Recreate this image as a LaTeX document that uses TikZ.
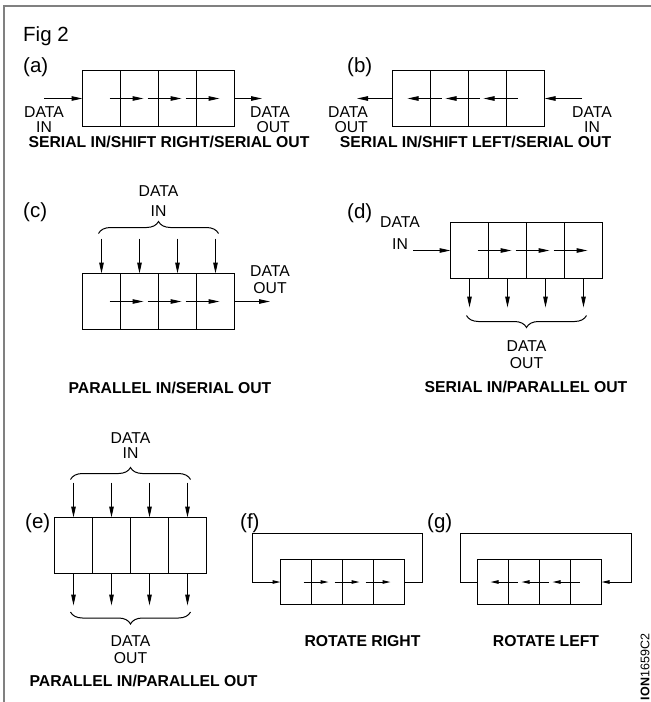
\documentclass[tikz,border=0pt]{standalone}
\usepackage{fontspec}
\setmainfont{Liberation Sans}
\usetikzlibrary{arrows.meta, positioning, decorations.pathreplacing}
\definecolor{FrameGray}{HTML}{808080}
\tikzset{
  cell/.style={draw, line width=1.2pt, minimum width=38pt, minimum height=56pt, inner sep=0pt, outer sep=0pt},
  smallcell/.style={cell, minimum width=31pt, minimum height=45pt},
  lbl/.style={font=\fontsize{15.75}{17}\selectfont, align=center, inner sep=0pt},
  ttl/.style={font=\fontsize{15.75}{17}\selectfont\bfseries, inner sep=0pt},
  tag/.style={font=\fontsize{20.5}{24}\selectfont, inner sep=0pt, anchor=base west},
  flow/.style={-{Triangle[length=11pt, width=4.5pt]}, line width=1pt},
  smallflow/.style={-{Triangle[length=8pt, width=3.5pt]}, line width=1pt},
  brace/.style={decorate, decoration={brace, amplitude=12pt}, line width=1pt}
}

\begin{document}
\begin{tikzpicture}[x=1pt, y=-1pt]
  \useasboundingbox (0,0) rectangle (651,702);
  \draw[draw=FrameGray, line width=2pt] (651,6) -- (4,6) -- (4,702);
  \node[tag] (fig) at (23,41) {Fig 2};

  % (a)
  \node[tag] (taga) at (23,72) {(a)};
  \node[cell] (a1) at (101.5,98.5) {};
  \node[cell, right=0pt of a1] (a2) {};
  \node[cell, right=0pt of a2] (a3) {};
  \node[cell, right=0pt of a3] (a4) {};
  \coordinate (ain) at (44,98.5);
  \coordinate (aout) at (262,98.5);
  \draw[flow] (ain) -- (a1);
  \draw[flow] ([xshift=-11pt]a1.east) -- ([xshift=23pt]a2.west);
  \draw[flow] ([xshift=-11pt]a2.east) -- ([xshift=23pt]a3.west);
  \draw[flow] ([xshift=-11pt]a3.east) -- ([xshift=23pt]a4.west);
  \draw[flow] (a4) -- (aout);
  \node[lbl, below=7.5pt of ain] (aintxt) {DATA\\[-1.5pt]IN};
  \node[lbl, align=right, anchor=north east] (aouttxt) at (290,106) {DATA\\[-1.5pt]OUT};
  \node[ttl] (atitle) at (169,141.5) {SERIAL IN/SHIFT RIGHT/SERIAL OUT};

  % (b)
  \node[tag] (tagb) at (347,72) {(b)};
  \node[cell] (b1) at (411.5,98.5) {};
  \node[cell, right=0pt of b1] (b2) {};
  \node[cell, right=0pt of b2] (b3) {};
  \node[cell, right=0pt of b3] (b4) {};
  \coordinate (bout) at (357,98.5);
  \coordinate (bin) at (582,98.5);
  \draw[flow] (b1) -- (bout);
  \draw[flow] ([xshift=11pt]b2.west) -- ([xshift=-23pt]b1.east);
  \draw[flow] ([xshift=11pt]b3.west) -- ([xshift=-23pt]b2.east);
  \draw[flow] ([xshift=11pt]b4.west) -- ([xshift=-23pt]b3.east);
  \draw[flow] (bin) -- (b4);
  \node[lbl, align=right, anchor=north east] (bouttxt) at (368,106) {DATA\\[-1.5pt]OUT};
  \node[lbl, anchor=north] (bintxt) at (592,106) {DATA\\[-1.5pt]IN};
  \node[ttl] (btitle) at (475.5,141.5) {SERIAL IN/SHIFT LEFT/SERIAL OUT};

  % (c)
  \node[tag] (tagc) at (23,217) {(c)};
  \node[cell] (c1) at (101.5,301.5) {};
  \node[cell, right=0pt of c1] (c2) {};
  \node[cell, right=0pt of c2] (c3) {};
  \node[cell, right=0pt of c3] (c4) {};
  \draw[flow] ([yshift=35pt]c1.north) -- (c1.north);
  \draw[flow] ([yshift=35pt]c2.north) -- (c2.north);
  \draw[flow] ([yshift=35pt]c3.north) -- (c3.north);
  \draw[flow] ([yshift=35pt]c4.north) -- (c4.north);
  \draw[brace] ([xshift=-3pt, yshift=40pt]c1.north) -- node[lbl, above=17pt] (cintxt) {DATA\\[3pt]IN} ([xshift=3pt, yshift=40pt]c4.north);
  \draw[flow] ([xshift=-11pt]c1.east) -- ([xshift=23pt]c2.west);
  \draw[flow] ([xshift=-11pt]c2.east) -- ([xshift=23pt]c3.west);
  \draw[flow] ([xshift=-11pt]c3.east) -- ([xshift=23pt]c4.west);
  \coordinate (cout) at (270,301.5);
  \draw[flow] (c4) -- (cout);
  \node[lbl, above=8pt of cout] (couttxt) {DATA\\OUT};
  \node[ttl] (ctitle) at (170,387.5) {PARALLEL IN/SERIAL OUT};

  % (d)
  \node[tag] (tagd) at (347,218) {(d)};
  \node[cell] (d1) at (469.5,250.5) {};
  \node[cell, right=0pt of d1] (d2) {};
  \node[cell, right=0pt of d2] (d3) {};
  \node[cell, right=0pt of d3] (d4) {};
  \coordinate (din) at (413,250.5);
  \draw[flow] (din) -- (d1);
  \draw[flow] ([xshift=-11pt]d1.east) -- ([xshift=23pt]d2.west);
  \draw[flow] ([xshift=-11pt]d2.east) -- ([xshift=23pt]d3.west);
  \draw[flow] ([xshift=-11pt]d3.east) -- ([xshift=23pt]d4.west);
  \node[lbl, anchor=south] (dintxt) at (400,250) {DATA\\[5pt]IN};
  \draw[flow] (d1) -- ([yshift=-29pt]d1.south);
  \draw[flow] (d2) -- ([yshift=-29pt]d2.south);
  \draw[flow] (d3) -- ([yshift=-29pt]d3.south);
  \draw[flow] (d4) -- ([yshift=-29pt]d4.south);
  \draw[brace] ([xshift=3pt, yshift=-37pt]d4.south) -- node[lbl, below=25pt] (douttxt) {DATA\\OUT} ([xshift=-3pt, yshift=-37pt]d1.south);
  \node[ttl] (dtitle) at (526,386.5) {SERIAL IN/PARALLEL OUT};

  % (e)
  \node[tag] (tage) at (25,528) {(e)};
  \node[cell] (e1) at (73.5,545.5) {};
  \node[cell, right=0pt of e1] (e2) {};
  \node[cell, right=0pt of e2] (e3) {};
  \node[cell, right=0pt of e3] (e4) {};
  \draw[flow] ([yshift=35pt]e1.north) -- (e1.north);
  \draw[flow] ([yshift=35pt]e2.north) -- (e2.north);
  \draw[flow] ([yshift=35pt]e3.north) -- (e3.north);
  \draw[flow] ([yshift=35pt]e4.north) -- (e4.north);
  \draw[brace] ([xshift=-3pt, yshift=38pt]e1.north) -- node[lbl, above=21pt] (eintxt) {DATA\\[-2pt]IN} ([xshift=3pt, yshift=38pt]e4.north);
  \draw[flow] (e1) -- ([yshift=-32pt]e1.south);
  \draw[flow] (e2) -- ([yshift=-32pt]e2.south);
  \draw[flow] (e3) -- ([yshift=-32pt]e3.south);
  \draw[flow] (e4) -- ([yshift=-32pt]e4.south);
  \draw[brace] ([xshift=3pt, yshift=-38.5pt]e4.south) -- node[lbl, below=23pt] (eouttxt) {DATA\\OUT} ([xshift=-3pt, yshift=-38.5pt]e1.south);
  \node[ttl] (etitle) at (143.5,681) {PARALLEL IN/PARALLEL OUT};

  % (f)
  \node[tag] (tagf) at (240,528) {(f)};
  \node[smallcell] (f1) at (296,582) {};
  \node[smallcell, right=0pt of f1] (f2) {};
  \node[smallcell, right=0pt of f2] (f3) {};
  \node[smallcell, right=0pt of f3] (f4) {};
  \draw[smallflow] ([xshift=-8pt]f1.east) -- ([xshift=17pt]f2.west);
  \draw[smallflow] ([xshift=-8pt]f2.east) -- ([xshift=17pt]f3.west);
  \draw[smallflow] ([xshift=-8pt]f3.east) -- ([xshift=17pt]f4.west);
  \coordinate (fr) at (422.5,533.5);
  \coordinate (fl) at (252.5,533.5);
  \draw[smallflow] (f4.east) -| (fr) -- (fl) |- (f1.west);
  \node[ttl] (ftitle) at (362.5,641) {ROTATE RIGHT};

  % (g)
  \node[tag] (tagg) at (427,528) {(g)};
  \node[smallcell] (g1) at (493,582) {};
  \node[smallcell, right=0pt of g1] (g2) {};
  \node[smallcell, right=0pt of g2] (g3) {};
  \node[smallcell, right=0pt of g3] (g4) {};
  \draw[smallflow] ([xshift=9pt]g2.west) -- ([xshift=-18pt]g1.east);
  \draw[smallflow] ([xshift=9pt]g3.west) -- ([xshift=-18pt]g2.east);
  \draw[smallflow] ([xshift=9pt]g4.west) -- ([xshift=-18pt]g3.east);
  \coordinate (gl) at (460.5,533.5);
  \coordinate (gr) at (631.5,533.5);
  \draw[smallflow] (g1.west) -| (gl) -- (gr) |- (g4.east);
  \node[ttl] (gtitle) at (546,641) {ROTATE LEFT};

  \node[font=\fontsize{12.5}{14}\selectfont, rotate=90, inner sep=0pt] (code) at (645,667) {\textbf{ION}1659C2};
\end{tikzpicture}
\end{document}
